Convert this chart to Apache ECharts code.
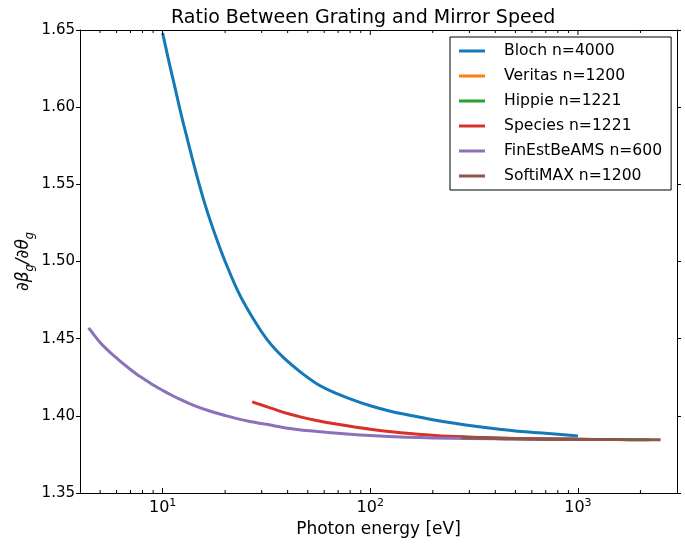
<!DOCTYPE html>
<html>
<head>
<meta charset="utf-8">
<script src="https://cdn.jsdelivr.net/npm/echarts@6/dist/echarts.min.js"></script>
<style>html,body{margin:0;padding:0;background:#fff}#c{width:685px;height:545px}</style>
</head>
<body>
<div id="c"></div>
<script>
// ---------- data ----------
const seriesNames = ['Bloch n=4000', 'Veritas n=1200', 'Hippie n=1221', 'Species n=1221', 'FinEstBeAMS n=600', 'SoftiMAX n=1200'];
const seriesColors = ['#1479b8', '#ff7f0e', '#2ca02c', '#d8312a', '#8b71b9', '#8c564b'];

const energyBloch = [10, 10.5, 11, 11.5, 12, 12.5, 13, 14, 15, 16, 17, 18.5, 20, 23, 27, 32, 38, 46, 55, 66, 80, 100, 125, 160, 200, 250, 320, 400, 500, 650, 800, 1000];
const ratioBloch  = [1.648, 1.635, 1.623, 1.612, 1.601, 1.591, 1.582, 1.565, 1.550, 1.537, 1.526, 1.512, 1.500, 1.481, 1.464, 1.449, 1.438, 1.4285, 1.421, 1.4155, 1.411, 1.4065, 1.403, 1.4000, 1.3975, 1.3953, 1.3932, 1.3916, 1.3902, 1.3890, 1.3880, 1.3870];

const energyVeritas = [275, 350, 450, 600, 800, 1000, 1300, 1600];
const ratioVeritas  = [1.3858, 1.3855, 1.3852, 1.3850, 1.3848, 1.3847, 1.3846, 1.3846];

const energyHippie = [250, 300, 400, 600, 1000, 1500, 2200];
const ratioHippie  = [1.3866, 1.3862, 1.3856, 1.3851, 1.3848, 1.3846, 1.3845];

const energySpecies = [27, 30, 35, 40, 46, 55, 65, 80, 100, 130, 170, 220, 300, 400, 600, 1000, 1500];
const ratioSpecies  = [1.409, 1.407, 1.404, 1.4015, 1.3993, 1.3970, 1.3952, 1.3932, 1.3913, 1.3895, 1.3880, 1.3870, 1.3862, 1.3856, 1.3851, 1.3848, 1.3846];

const energyFinEst = [4.4, 4.7, 5, 5.3, 5.6, 6, 6.5, 7, 7.5, 8, 9, 10, 11, 12, 14, 17, 21, 26, 33, 40, 51, 65, 80, 100, 150, 200, 300, 500, 1000];
const ratioFinEst  = [1.457, 1.452, 1.4475, 1.444, 1.441, 1.4375, 1.4335, 1.430, 1.427, 1.4245, 1.420, 1.4165, 1.4135, 1.411, 1.407, 1.403, 1.3995, 1.3965, 1.394, 1.392, 1.3903, 1.389, 1.388, 1.3872, 1.3862, 1.3857, 1.3853, 1.3850, 1.3848];

const energySofti = [275, 350, 450, 600, 800, 1000, 1300, 1600, 2000, 2500];
const ratioSofti  = [1.3858, 1.3855, 1.3852, 1.3850, 1.3848, 1.3847, 1.3846, 1.3846, 1.3845, 1.3845];

const minorTickValues = [5, 6, 7, 8, 9, 20, 30, 40, 50, 60, 70, 80, 90, 200, 300, 400, 500, 600, 700, 800, 900, 2000];
const majorTickValues = [10, 100, 1000];

// ---------- build ----------
const zip = (xs, ys) => xs.map((x, i) => [x, ys[i]]);
const allData = [
  zip(energyBloch, ratioBloch),
  zip(energyVeritas, ratioVeritas),
  zip(energyHippie, ratioHippie),
  zip(energySpecies, ratioSpecies),
  zip(energyFinEst, ratioFinEst),
  zip(energySofti, ratioSofti)
];

const FONT = 'DejaVu Sans';
const lineSeries = seriesNames.map((n, i) => ({
  name: n,
  type: 'line',
  data: allData[i],
  showSymbol: false,
  symbol: 'none',
  smooth: 0.25,
  lineStyle: { width: 3, color: seriesColors[i], join: 'round', cap: 'butt' },
  itemStyle: { color: seriesColors[i] },
  emphasis: { disabled: true },
  animation: false
}));

const tickSeries = {
  type: 'custom',
  silent: true,
  animation: false,
  data: minorTickValues.map(v => [v, 0]).concat(majorTickValues.map(v => [v, 1])),
  renderItem: function (params, api) {
    const v = api.value(0);
    const major = api.value(1) === 1;
    const len = major ? 5 : 3;
    const b = api.coord([v, 1.35]);
    const t = api.coord([v, 1.65]);
    const st = { stroke: '#000', lineWidth: 1 };
    const children = [
      { type: 'line', shape: { x1: t[0], y1: t[1], x2: t[0], y2: t[1] + len }, style: st }
    ];
    if (!major) children.push({ type: 'line', shape: { x1: b[0], y1: b[1], x2: b[0], y2: b[1] - len }, style: st });
    return { type: 'group', children: children };
  },
  z: 10
};

const option = {
  backgroundColor: '#fff',
  animation: false,
  title: {
    text: 'Ratio Between Grating and Mirror Speed',
    left: 166, top: 4,
    textStyle: { fontFamily: FONT, fontSize: 19, fontWeight: 'normal', color: '#000' }
  },
  grid: { left: 80, right: 8, top: 30, bottom: 52, containLabel: false },
  legend: {
    data: seriesNames,
    orient: 'vertical',
    left: 450, top: 37,
    padding: [5, 9, 5, 9],
    itemGap: 7,
    itemWidth: 26, itemHeight: 3,
    icon: 'rect',
    borderColor: '#000', borderWidth: 1,
    backgroundColor: '#fff',
    textStyle: { fontFamily: FONT, fontSize: 15.6, color: '#000', lineHeight: 18, padding: [0, 0, 0, 14] },
    selectedMode: false
  },
  xAxis: [{
    type: 'log', logBase: 10, min: 4, max: 3000,
    name: 'Photon energy [eV]', nameLocation: 'middle', nameGap: 24,
    nameTextStyle: { fontFamily: FONT, fontSize: 17, color: '#000' },
    axisLine: { show: true, lineStyle: { color: '#000', width: 1 } },
    axisTick: { show: true, inside: true, length: 5, lineStyle: { color: '#000' } },
    splitLine: { show: false },
    axisLabel: {
      color: '#000', margin: 5,
      formatter: function (v) {
        const n = Math.round(Math.log10(v));
        if (Math.abs(Math.log10(v) - n) > 1e-6) return '';
        return '{b|10}{s|' + n + '}';
      },
      rich: {
        b: { fontFamily: FONT, fontSize: 16, color: '#000', lineHeight: 20 },
        s: { fontFamily: FONT, fontSize: 11, color: '#000', lineHeight: 10, verticalAlign: 'top' }
      }
    }
  }, {
    type: 'log', logBase: 10, min: 4, max: 3000, position: 'top',
    axisLine: { show: true, lineStyle: { color: '#000', width: 1 } },
    axisTick: { show: false },
    axisLabel: { show: false },
    splitLine: { show: false }
  }],
  yAxis: [{
    type: 'value', min: 1.35, max: 1.65, interval: 0.05,
    name: '{a|∂β}{b|g}{a|/∂θ}{b|g}', nameLocation: 'middle', nameGap: 44, nameRotate: 90,
    nameMoveOverlap: false,
    nameTextStyle: {
      rich: {
        a: { fontFamily: FONT, fontSize: 17, fontStyle: 'italic', color: '#000', lineHeight: 24 },
        b: { fontFamily: FONT, fontSize: 11.5, fontStyle: 'italic', color: '#000', lineHeight: 11, verticalAlign: 'bottom' }
      }
    },
    axisLine: { show: true, lineStyle: { color: '#000', width: 1 } },
    axisTick: { show: true, inside: false, length: 4, lineStyle: { color: '#000' } },
    splitLine: { show: false },
    axisLabel: { fontFamily: FONT, fontSize: 15, color: '#000', margin: 5, formatter: v => v.toFixed(2) }
  }, {
    type: 'value', min: 1.35, max: 1.65, interval: 0.05, position: 'right',
    axisLine: { show: true, lineStyle: { color: '#000', width: 1 } },
    axisTick: { show: true, inside: false, length: 4, lineStyle: { color: '#000' } },
    axisLabel: { show: false },
    splitLine: { show: false }
  }],
  series: lineSeries.concat([tickSeries])
};

const chart = echarts.init(document.getElementById('c'), null, { renderer: 'canvas' });
chart.setOption(option);
</script>
</body>
</html>
